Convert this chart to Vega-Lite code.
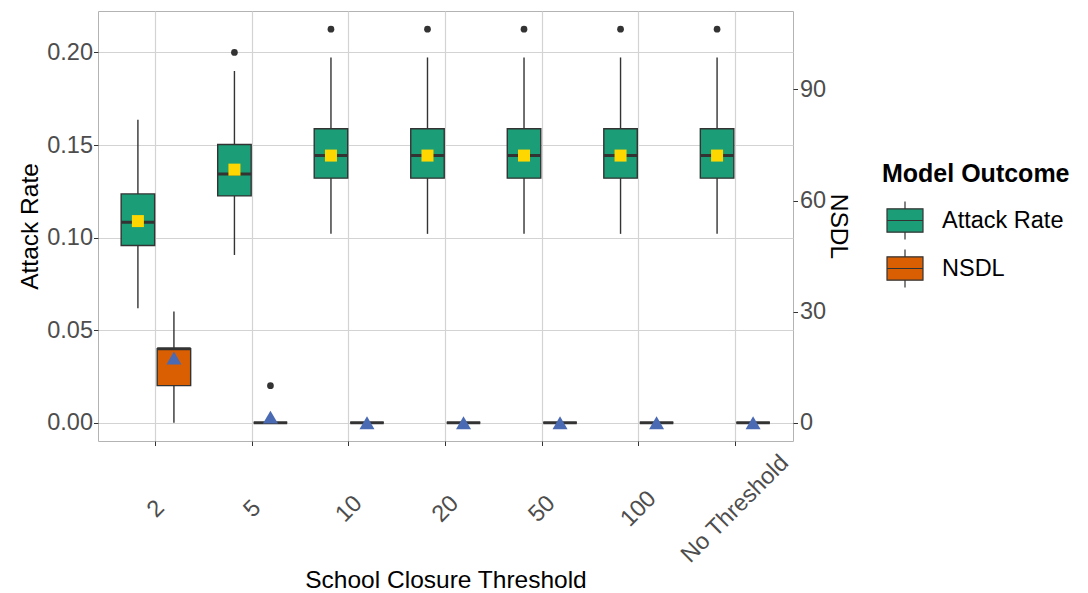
{
  "$schema": "https://vega.github.io/schema/vega-lite/v6.json",
  "width": 695,
  "height": 430,
  "autosize": {"type": "none"},
  "padding": {"left": 98, "top": 11, "right": 295, "bottom": 152},
  "background": "white",
  "config": {
    "font": "Liberation Sans",
    "view": {"stroke": "#B3B3B3", "strokeWidth": 1},
    "axis": {
      "labelFont": "Liberation Sans",
      "titleFont": "Liberation Sans",
      "labelFontSize": 23.5,
      "labelColor": "#4D4D4D",
      "titleFontSize": 24.5,
      "titleColor": "#000000",
      "titleFontWeight": "normal",
      "tickColor": "#333333",
      "tickSize": 4.5,
      "domain": false,
      "gridColor": "#D3D3D3",
      "gridWidth": 1.2
    },
    "axisLeft": {"grid": true, "labelPadding": 1, "titlePadding": 4},
    "axisRight": {"grid": false, "labelPadding": 2, "titlePadding": 0},
    "legend": {"labelFont": "Liberation Sans", "titleFont": "Liberation Sans"}
  },
  "datasets": {
    "arBox": [
      {"threshold": "2", "outcome": "Attack Rate", "lower": 0.0618, "q1": 0.0957, "median": 0.1083, "q3": 0.1236, "upper": 0.1636, "mean": 0.1089},
      {"threshold": "5", "outcome": "Attack Rate", "lower": 0.0906, "q1": 0.1225, "median": 0.1344, "q3": 0.1503, "upper": 0.19, "mean": 0.1367},
      {"threshold": "10", "outcome": "Attack Rate", "lower": 0.102, "q1": 0.1321, "median": 0.1443, "q3": 0.1588, "upper": 0.1973, "mean": 0.1443},
      {"threshold": "20", "outcome": "Attack Rate", "lower": 0.102, "q1": 0.1321, "median": 0.1443, "q3": 0.1588, "upper": 0.1973, "mean": 0.1443},
      {"threshold": "50", "outcome": "Attack Rate", "lower": 0.102, "q1": 0.1321, "median": 0.1443, "q3": 0.1588, "upper": 0.1973, "mean": 0.1443},
      {"threshold": "100", "outcome": "Attack Rate", "lower": 0.102, "q1": 0.1321, "median": 0.1443, "q3": 0.1588, "upper": 0.1973, "mean": 0.1443},
      {"threshold": "No Threshold", "outcome": "Attack Rate", "lower": 0.102, "q1": 0.1321, "median": 0.1443, "q3": 0.1588, "upper": 0.1973, "mean": 0.1443}
    ],
    "arOut": [
      {"threshold": "5", "outcome": "Attack Rate", "value": 0.2},
      {"threshold": "10", "outcome": "Attack Rate", "value": 0.2126},
      {"threshold": "20", "outcome": "Attack Rate", "value": 0.2126},
      {"threshold": "50", "outcome": "Attack Rate", "value": 0.2126},
      {"threshold": "100", "outcome": "Attack Rate", "value": 0.2126},
      {"threshold": "No Threshold", "outcome": "Attack Rate", "value": 0.2126}
    ],
    "nsdlBox": [
      {"threshold": "2", "outcome": "NSDL", "lower": 0, "q1": 10, "median": 20, "q3": 20, "upper": 30, "mean": 17.5},
      {"threshold": "5", "outcome": "NSDL", "lower": 0, "q1": 0, "median": 0, "q3": 0, "upper": 0, "mean": 1.5},
      {"threshold": "10", "outcome": "NSDL", "lower": 0, "q1": 0, "median": 0, "q3": 0, "upper": 0, "mean": 0},
      {"threshold": "20", "outcome": "NSDL", "lower": 0, "q1": 0, "median": 0, "q3": 0, "upper": 0, "mean": 0},
      {"threshold": "50", "outcome": "NSDL", "lower": 0, "q1": 0, "median": 0, "q3": 0, "upper": 0, "mean": 0},
      {"threshold": "100", "outcome": "NSDL", "lower": 0, "q1": 0, "median": 0, "q3": 0, "upper": 0, "mean": 0},
      {"threshold": "No Threshold", "outcome": "NSDL", "lower": 0, "q1": 0, "median": 0, "q3": 0, "upper": 0, "mean": 0}
    ],
    "nsdlOut": [
      {"threshold": "5", "outcome": "NSDL", "value": 10}
    ]
  },
  "encoding": {
    "x": {
      "field": "threshold",
      "type": "nominal",
      "sort": ["2", "5", "10", "20", "50", "100", "No Threshold"],
      "scale": {"paddingInner": 0, "paddingOuter": 0.1},
      "axis": {
        "title": "School Closure Threshold",
        "labelAngle": -45,
        "labelAlign": "center",
        "labelBaseline": "middle",
        "labelPadding": 63,
        "grid": true,
        "bandPosition": 0.5,
        "titlePadding": 2
      }
    },
    "xOffset": {
      "field": "outcome",
      "type": "nominal",
      "sort": ["Attack Rate", "NSDL"],
      "scale": {"paddingInner": 0.07, "paddingOuter": 0.375}
    }
  },
  "layer": [
    {
      "layer": [
        {
          "data": {"name": "arBox"},
          "mark": {"type": "rule", "color": "#333333", "strokeWidth": 1.4},
          "encoding": {
            "y": {"field": "lower", "type": "quantitative", "scale": {"domain": [-0.0099, 0.2224], "nice": false, "zero": false}, "axis": {"title": "Attack Rate", "orient": "left", "values": [0, 0.05, 0.1, 0.15, 0.2], "format": ".2f"}},
            "y2": {"field": "upper"}
          }
        },
        {
          "data": {"name": "arBox"},
          "mark": {"type": "bar", "stroke": "#333333", "strokeWidth": 1.4},
          "encoding": {
            "y": {"field": "q1", "type": "quantitative", "scale": {"domain": [-0.0099, 0.2224], "nice": false, "zero": false}, "axis": {"title": "Attack Rate", "orient": "left", "values": [0, 0.05, 0.1, 0.15, 0.2], "format": ".2f"}},
            "y2": {"field": "q3"},
            "fill": {
              "field": "outcome",
              "type": "nominal",
              "scale": {"domain": ["Attack Rate", "NSDL"], "range": ["#1B9E77", "#D95F02"]},
              "legend": {
                "title": "Model Outcome",
                "orient": "none",
                "legendX": 784,
                "legendY": 150.5,
                "titleFontSize": 25,
                "titleFontWeight": "bold",
                "titleColor": "#000000",
                "titlePadding": 15,
                "titleLimit": 400,
                "labelFontSize": 23.5,
                "labelColor": "#000000",
                "labelOffset": 18,
                "labelLimit": 400,
                "labelExpr": "datum.value === 'Attack Rate' ? '\u2005Attack Rate' : datum.label",
                "symbolType": "M-1,-0.65H1V0.65H-1Z M-1,0H1 M0,-0.65V-1.05 M0,0.65V1.05",
                "symbolSize": 1296,
                "symbolStrokeColor": "#333333",
                "symbolStrokeWidth": 1.2,
                "symbolOpacity": 1,
                "rowPadding": 4,
                "symbolOffset": 4
              }
            }
          }
        },
        {
          "data": {"name": "arBox"},
          "mark": {"type": "bar", "stroke": "#333333", "strokeWidth": 3, "fillOpacity": 0},
          "encoding": {
            "y": {"field": "median", "type": "quantitative", "scale": {"domain": [-0.0099, 0.2224], "nice": false, "zero": false}, "axis": {"title": "Attack Rate", "orient": "left", "values": [0, 0.05, 0.1, 0.15, 0.2], "format": ".2f"}},
            "y2": {"field": "median"}
          }
        },
        {
          "data": {"name": "arOut"},
          "mark": {"type": "point", "filled": true, "color": "#333333", "size": 45, "opacity": 1},
          "encoding": {
            "y": {"field": "value", "type": "quantitative", "scale": {"domain": [-0.0099, 0.2224], "nice": false, "zero": false}, "axis": {"title": "Attack Rate", "orient": "left", "values": [0, 0.05, 0.1, 0.15, 0.2], "format": ".2f"}}
          }
        },
        {
          "data": {"name": "arBox"},
          "mark": {"type": "point", "shape": "square", "filled": true, "color": "#FFD700", "size": 144, "opacity": 1},
          "encoding": {
            "y": {"field": "mean", "type": "quantitative", "scale": {"domain": [-0.0099, 0.2224], "nice": false, "zero": false}, "axis": {"title": "Attack Rate", "orient": "left", "values": [0, 0.05, 0.1, 0.15, 0.2], "format": ".2f"}}
          }
        }
      ]
    },
    {
      "layer": [
        {
          "data": {"name": "nsdlBox"},
          "mark": {"type": "rule", "color": "#333333", "strokeWidth": 1.4},
          "encoding": {
            "y": {"field": "lower", "type": "quantitative", "scale": {"domain": [-4.95, 111.2], "nice": false, "zero": false}, "axis": {"title": "NSDL", "orient": "right", "values": [0, 30, 60, 90], "grid": false}},
            "y2": {"field": "upper"}
          }
        },
        {
          "data": {"name": "nsdlBox"},
          "mark": {"type": "bar", "stroke": "#333333", "strokeWidth": 1.4},
          "encoding": {
            "y": {"field": "q1", "type": "quantitative", "scale": {"domain": [-4.95, 111.2], "nice": false, "zero": false}, "axis": {"title": "NSDL", "orient": "right", "values": [0, 30, 60, 90], "grid": false}},
            "y2": {"field": "q3"},
            "fill": {
              "field": "outcome",
              "type": "nominal",
              "scale": {"domain": ["Attack Rate", "NSDL"], "range": ["#1B9E77", "#D95F02"]}
            }
          }
        },
        {
          "data": {"name": "nsdlBox"},
          "mark": {"type": "bar", "stroke": "#333333", "strokeWidth": 3, "fillOpacity": 0},
          "encoding": {
            "y": {"field": "median", "type": "quantitative", "scale": {"domain": [-4.95, 111.2], "nice": false, "zero": false}, "axis": {"title": "NSDL", "orient": "right", "values": [0, 30, 60, 90], "grid": false}},
            "y2": {"field": "median"}
          }
        },
        {
          "data": {"name": "nsdlOut"},
          "mark": {"type": "point", "filled": true, "color": "#333333", "size": 45, "opacity": 1},
          "encoding": {
            "y": {"field": "value", "type": "quantitative", "scale": {"domain": [-4.95, 111.2], "nice": false, "zero": false}, "axis": {"title": "NSDL", "orient": "right", "values": [0, 30, 60, 90], "grid": false}}
          }
        },
        {
          "data": {"name": "nsdlBox"},
          "mark": {"type": "point", "shape": "triangle-up", "filled": true, "color": "#4A6AB3", "size": 225, "opacity": 1},
          "encoding": {
            "y": {"field": "mean", "type": "quantitative", "scale": {"domain": [-4.95, 111.2], "nice": false, "zero": false}, "axis": {"title": "NSDL", "orient": "right", "values": [0, 30, 60, 90], "grid": false}}
          }
        }
      ]
    }
  ],
  "resolve": {"scale": {"y": "independent"}, "axis": {"y": "independent"}}
}
